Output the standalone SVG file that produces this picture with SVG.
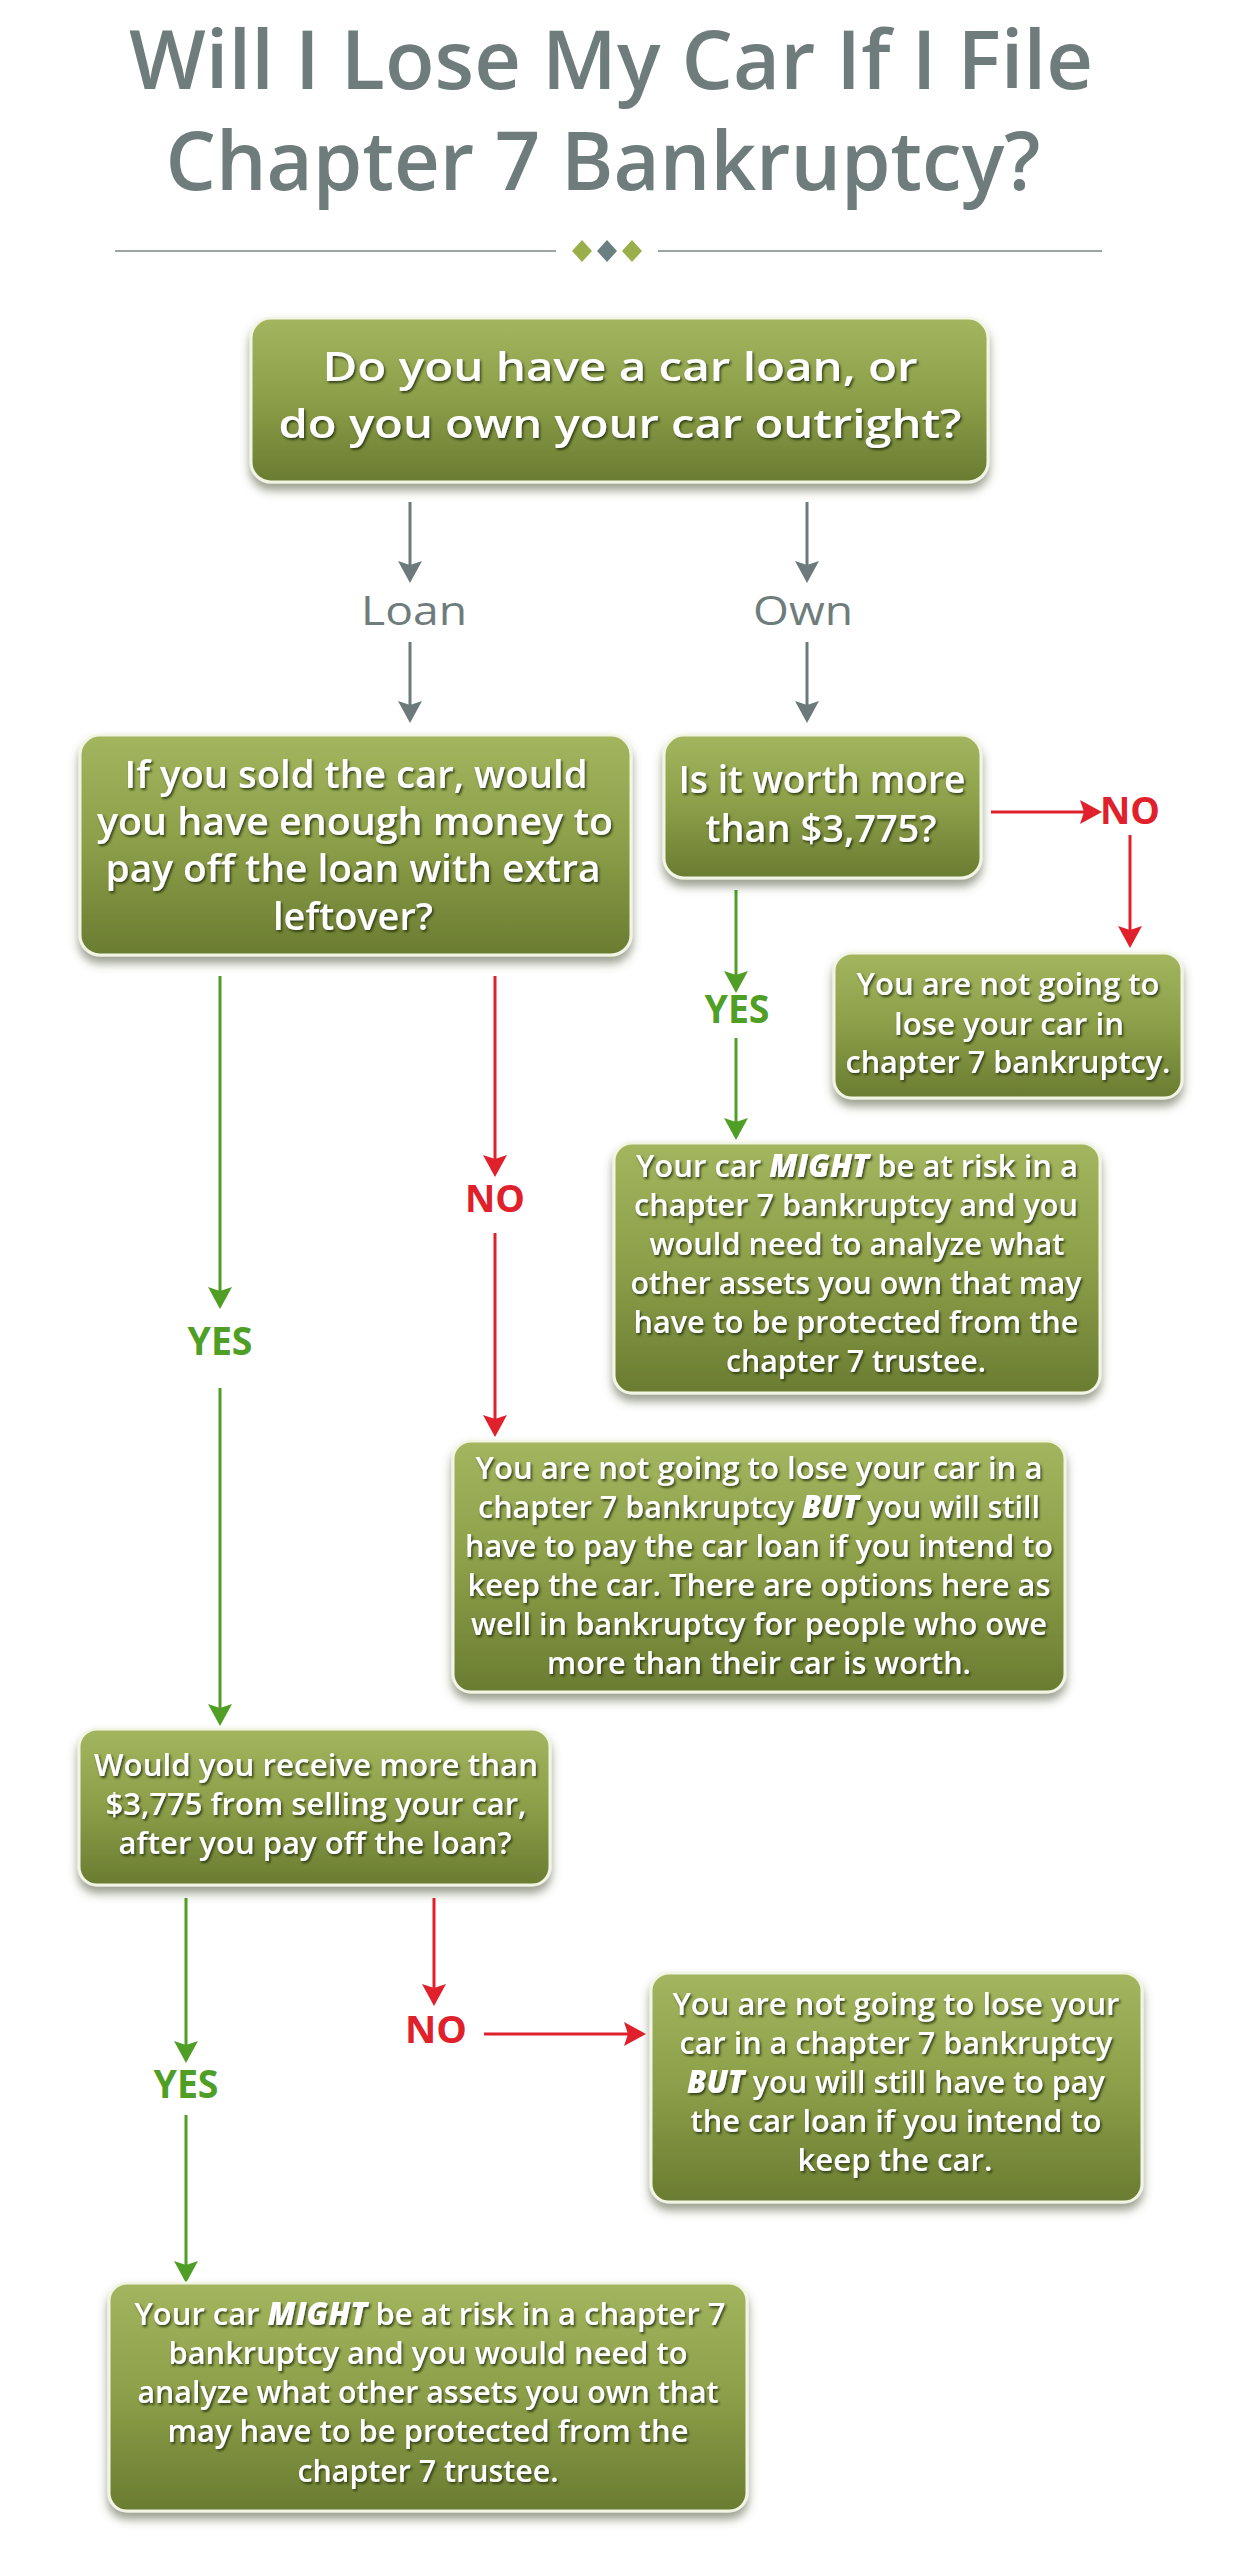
<svg xmlns="http://www.w3.org/2000/svg" width="1259" height="2560" viewBox="0 0 1259 2560">
<defs>
<linearGradient id="boxg" x1="0" y1="0" x2="0" y2="1">
<stop offset="0" stop-color="#a3b55e"/>
<stop offset="0.5" stop-color="#8c9e48"/>
<stop offset="1" stop-color="#6a7c31"/>
</linearGradient>
<filter id="boxsh" x="-10%" y="-10%" width="120%" height="130%">
<feDropShadow dx="0" dy="7" stdDeviation="5" flood-color="#4c5236" flood-opacity="0.55"/>
</filter>
<filter id="tsh" x="-5%" y="-20%" width="110%" height="150%">
<feDropShadow dx="1.5" dy="2" stdDeviation="1.2" flood-color="#28310c" flood-opacity="0.85"/>
</filter>
<marker id="ag" markerUnits="userSpaceOnUse" markerWidth="22" markerHeight="24" viewBox="0 0 22 24" refX="16" refY="12" orient="auto"><path d="M0,0 L22,12 L0,24 L4,12 z" fill="#6c7a7b"/></marker>
<marker id="ar" markerUnits="userSpaceOnUse" markerWidth="22" markerHeight="24" viewBox="0 0 22 24" refX="16" refY="12" orient="auto"><path d="M0,0 L22,12 L0,24 L4,12 z" fill="#e0202a"/></marker>
<marker id="agr" markerUnits="userSpaceOnUse" markerWidth="22" markerHeight="24" viewBox="0 0 22 24" refX="16" refY="12" orient="auto"><path d="M0,0 L22,12 L0,24 L4,12 z" fill="#4f9e26"/></marker>
</defs>
<style>
.box{fill:url(#boxg);stroke:#f3f5e4;stroke-width:3;filter:url(#boxsh)}
.t{font-family:"Open Sans","Liberation Sans",sans-serif;font-weight:600;fill:#ffffff;text-anchor:middle;filter:url(#tsh)}
.big{font-size:40px}
.mid{font-size:38px}
.sm{font-size:31px}
.em{font-weight:800;font-style:italic}
.title{font-family:"Open Sans","Liberation Sans",sans-serif;font-weight:600;font-size:81px;fill:#6f7c7c;text-anchor:middle}
.lg{stroke:#6c7a7b;stroke-width:3;fill:none;marker-end:url(#ag)}
.lr{stroke:#e0202a;stroke-width:3;fill:none;marker-end:url(#ar)}
.lgr{stroke:#4f9e26;stroke-width:3;fill:none;marker-end:url(#agr)}
.lab{font-family:"Open Sans","Liberation Sans",sans-serif;font-size:40px;fill:#6f7c7c;text-anchor:middle}
.yes{font-family:"Open Sans","Liberation Sans",sans-serif;font-weight:700;font-size:39px;fill:#4f9e26;text-anchor:middle}
.no{font-family:"Open Sans","Liberation Sans",sans-serif;font-weight:700;font-size:38px;fill:#e0202a;text-anchor:middle}
</style>
<rect width="1259" height="2560" fill="#ffffff"/>
<g id="title">
<text class="title" x="611" y="89" textLength="964" lengthAdjust="spacingAndGlyphs">Will I Lose My Car If I File</text>
<text class="title" x="603" y="190" textLength="875" lengthAdjust="spacingAndGlyphs">Chapter 7 Bankruptcy?</text>
<line x1="115" y1="251" x2="556" y2="251" stroke="#7b8686" stroke-width="1.5"/>
<line x1="658" y1="251" x2="1102" y2="251" stroke="#7b8686" stroke-width="1.5"/>
<path d="M582,240 L592,251 L582,262 L572,251 z" fill="#9aae4c"/>
<path d="M607,240 L617,251 L607,262 L597,251 z" fill="#6b7f80"/>
<path d="M632,240 L642,251 L632,262 L622,251 z" fill="#9aae4c"/>
</g>
<g id="connectors">
<line class="lg" x1="410" y1="502" x2="410" y2="577"/>
<line class="lg" x1="807" y1="502" x2="807" y2="577"/>
<text class="lab" x="414" y="625" textLength="106" lengthAdjust="spacingAndGlyphs">Loan</text>
<text class="lab" x="803" y="625" textLength="100" lengthAdjust="spacingAndGlyphs">Own</text>
<line class="lg" x1="410" y1="642" x2="410" y2="717"/>
<line class="lg" x1="807" y1="642" x2="807" y2="717"/>
<line class="lr" x1="991" y1="812" x2="1096" y2="812"/>
<text class="no" x="1130" y="824" textLength="60" lengthAdjust="spacingAndGlyphs">NO</text>
<line class="lr" x1="1130" y1="835" x2="1130" y2="942"/>
<line class="lgr" x1="736" y1="890" x2="736" y2="987"/>
<text class="yes" x="737" y="1023" textLength="65" lengthAdjust="spacingAndGlyphs">YES</text>
<line class="lgr" x1="736" y1="1038" x2="736" y2="1134"/>
<line class="lgr" x1="220" y1="976" x2="220" y2="1303"/>
<text class="yes" x="220" y="1355" textLength="65" lengthAdjust="spacingAndGlyphs">YES</text>
<line class="lgr" x1="220" y1="1388" x2="220" y2="1720"/>
<line class="lr" x1="495" y1="976" x2="495" y2="1171"/>
<text class="no" x="495" y="1212" textLength="60" lengthAdjust="spacingAndGlyphs">NO</text>
<line class="lr" x1="495" y1="1233" x2="495" y2="1431"/>
<line class="lgr" x1="186" y1="1898" x2="186" y2="2057"/>
<text class="yes" x="186" y="2098" textLength="65" lengthAdjust="spacingAndGlyphs">YES</text>
<line class="lgr" x1="186" y1="2115" x2="186" y2="2277"/>
<line class="lr" x1="434" y1="1898" x2="434" y2="2000"/>
<text class="no" x="436" y="2043" textLength="62" lengthAdjust="spacingAndGlyphs">NO</text>
<line class="lr" x1="484" y1="2034" x2="640" y2="2034"/>
</g>
<g id="node-q1">
<rect class="box" x="251" y="318" width="737" height="164" rx="20"/>
<text class="t big" x="620" y="381" textLength="595" lengthAdjust="spacingAndGlyphs">Do you have a car loan, or</text>
<text class="t big" x="620" y="438" textLength="683" lengthAdjust="spacingAndGlyphs">do you own your car outright?</text>
</g>
<g id="node-q2">
<rect class="box" x="80" y="735" width="551" height="220" rx="20"/>
<text class="t mid" x="356" y="788" textLength="463" lengthAdjust="spacingAndGlyphs">If you sold the car, would</text>
<text class="t mid" x="355" y="835" textLength="516" lengthAdjust="spacingAndGlyphs">you have enough money to</text>
<text class="t mid" x="353" y="882" textLength="495" lengthAdjust="spacingAndGlyphs">pay off the loan with extra</text>
<text class="t mid" x="353" y="930" textLength="160" lengthAdjust="spacingAndGlyphs">leftover?</text>
</g>
<g id="node-q3">
<rect class="box" x="664" y="735" width="317" height="143" rx="20"/>
<text class="t mid" x="822" y="793" textLength="287" lengthAdjust="spacingAndGlyphs">Is it worth more</text>
<text class="t mid" x="821" y="842" textLength="231" lengthAdjust="spacingAndGlyphs">than $3,775?</text>
</g>
<g id="node-r1">
<rect class="box" x="834" y="953" width="348" height="145" rx="18"/>
<text class="t sm" x="1008" y="995" textLength="303" lengthAdjust="spacingAndGlyphs">You are not going to</text>
<text class="t sm" x="1009" y="1035" textLength="230" lengthAdjust="spacingAndGlyphs">lose your car in</text>
<text class="t sm" x="1008" y="1073" textLength="325" lengthAdjust="spacingAndGlyphs">chapter 7 bankruptcy.</text>
</g>
<g id="node-r2">
<rect class="box" x="614" y="1143" width="486" height="250" rx="18"/>
<text class="t sm" x="857" y="1177" textLength="442" lengthAdjust="spacingAndGlyphs">Your car <tspan class="em">MIGHT</tspan> be at risk in a</text>
<text class="t sm" x="856" y="1216" textLength="444" lengthAdjust="spacingAndGlyphs">chapter 7 bankruptcy and you</text>
<text class="t sm" x="857" y="1255" textLength="415" lengthAdjust="spacingAndGlyphs">would need to analyze what</text>
<text class="t sm" x="856" y="1294" textLength="451" lengthAdjust="spacingAndGlyphs">other assets you own that may</text>
<text class="t sm" x="856" y="1333" textLength="445" lengthAdjust="spacingAndGlyphs">have to be protected from the</text>
<text class="t sm" x="856" y="1372" textLength="260" lengthAdjust="spacingAndGlyphs">chapter 7 trustee.</text>
</g>
<g id="node-r3">
<rect class="box" x="453" y="1441" width="612" height="251" rx="18"/>
<text class="t sm" x="759" y="1479" textLength="567" lengthAdjust="spacingAndGlyphs">You are not going to lose your car in a</text>
<text class="t sm" x="759" y="1518" textLength="562" lengthAdjust="spacingAndGlyphs">chapter 7 bankruptcy <tspan class="em">BUT</tspan> you will still</text>
<text class="t sm" x="759" y="1557" textLength="588" lengthAdjust="spacingAndGlyphs">have to pay the car loan if you intend to</text>
<text class="t sm" x="759" y="1596" textLength="583" lengthAdjust="spacingAndGlyphs">keep the car. There are options here as</text>
<text class="t sm" x="759" y="1635" textLength="576" lengthAdjust="spacingAndGlyphs">well in bankruptcy for people who owe</text>
<text class="t sm" x="759" y="1674" textLength="424" lengthAdjust="spacingAndGlyphs">more than their car is worth.</text>
</g>
<g id="node-q4">
<rect class="box" x="79" y="1729" width="471" height="156" rx="18"/>
<text class="t sm" x="316" y="1776" textLength="444" lengthAdjust="spacingAndGlyphs">Would you receive more than</text>
<text class="t sm" x="316" y="1815" textLength="421" lengthAdjust="spacingAndGlyphs">$3,775 from selling your car,</text>
<text class="t sm" x="315" y="1854" textLength="393" lengthAdjust="spacingAndGlyphs">after you pay off the loan?</text>
</g>
<g id="node-r4">
<rect class="box" x="651" y="1973" width="491" height="229" rx="18"/>
<text class="t sm" x="896" y="2015" textLength="447" lengthAdjust="spacingAndGlyphs">You are not going to lose your</text>
<text class="t sm" x="896" y="2054" textLength="433" lengthAdjust="spacingAndGlyphs">car in a chapter 7 bankruptcy</text>
<text class="t sm" x="896" y="2093" textLength="418" lengthAdjust="spacingAndGlyphs"><tspan class="em">BUT</tspan> you will still have to pay</text>
<text class="t sm" x="896" y="2132" textLength="411" lengthAdjust="spacingAndGlyphs">the car loan if you intend to</text>
<text class="t sm" x="895" y="2171" textLength="195" lengthAdjust="spacingAndGlyphs">keep the car.</text>
</g>
<g id="node-r5">
<rect class="box" x="109" y="2283" width="638" height="228" rx="18"/>
<text class="t sm" x="430" y="2325" textLength="591" lengthAdjust="spacingAndGlyphs">Your car <tspan class="em">MIGHT</tspan> be at risk in a chapter 7</text>
<text class="t sm" x="428" y="2364" textLength="519" lengthAdjust="spacingAndGlyphs">bankruptcy and you would need to</text>
<text class="t sm" x="428" y="2403" textLength="581" lengthAdjust="spacingAndGlyphs">analyze what other assets you own that</text>
<text class="t sm" x="428" y="2442" textLength="521" lengthAdjust="spacingAndGlyphs">may have to be protected from the</text>
<text class="t sm" x="428" y="2482" textLength="261" lengthAdjust="spacingAndGlyphs">chapter 7 trustee.</text>
</g>
</svg>
